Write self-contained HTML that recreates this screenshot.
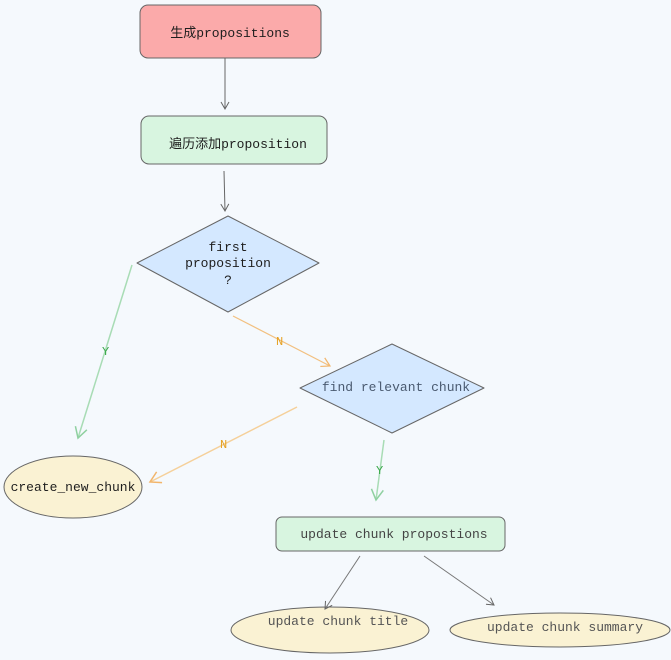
<!DOCTYPE html>
<html><head><meta charset="utf-8"><style>
html,body{margin:0;padding:0;background:#f5f9fd;}
svg{display:block}
text{font-family:"Liberation Mono","Noto Sans CJK SC",monospace;font-size:13px;}
</style></head><body>
<svg width="671" height="660" viewBox="0 0 671 660">
<defs>
<marker id="ag" markerWidth="10" markerHeight="10" refX="8" refY="5" orient="auto"><path d="M1,1 L8,5 L1,9" fill="none" stroke="#666" stroke-width="1"/></marker>
<marker id="ao" markerWidth="10" markerHeight="10" refX="8" refY="5" orient="auto"><path d="M1,1 L8,5 L1,9" fill="none" stroke="#f2b56b" stroke-width="1"/></marker>
<marker id="agr" markerWidth="10" markerHeight="10" refX="8" refY="5" orient="auto"><path d="M1,1 L8,5 L1,9" fill="none" stroke="#8fd0a0" stroke-width="1"/></marker>
</defs>
<rect width="671" height="660" fill="#f5f9fd"/>
<rect x="140" y="5" width="181" height="53" rx="8" fill="#fbaaaa" stroke="#666"/>
<text x="230" y="37" text-anchor="middle" style="fill:#1e1e1e">生成propositions</text>
<rect x="141" y="116" width="186" height="48" rx="8" fill="#d8f5e0" stroke="#666"/>
<text x="238" y="148" text-anchor="middle" style="fill:#1e1e1e">遍历添加proposition</text>
<path d="M228,216 L319,263 L228,312 L137,263 Z" fill="#d4e8ff" stroke="#666" stroke-linejoin="round"/>
<text x="228" y="251" text-anchor="middle" style="fill:#1e1e1e">first</text>
<text x="228" y="267" text-anchor="middle" style="fill:#1e1e1e">proposition</text>
<text x="228" y="284" text-anchor="middle" style="fill:#1e1e1e">?</text>
<path d="M392,344 L484,388 L392,433 L300,388 Z" fill="#d4e8ff" stroke="#666" stroke-linejoin="round"/>
<text x="396" y="391" text-anchor="middle" style="fill:#4a5a70">find relevant chunk</text>
<ellipse cx="73" cy="487" rx="69" ry="31" fill="#faf2d3" stroke="#666"/>
<text x="73" y="491" text-anchor="middle" style="fill:#1e1e1e">create_new_chunk</text>
<rect x="276" y="517" width="229" height="34" rx="6" fill="#d8f5e0" stroke="#666"/>
<text x="394" y="538" text-anchor="middle" style="fill:#444">update chunk propostions</text>
<ellipse cx="330" cy="630" rx="99" ry="23" fill="#faf2d3" stroke="#666"/>
<text x="338" y="625" text-anchor="middle" style="fill:#555">update chunk title</text>
<ellipse cx="560" cy="630" rx="110" ry="17" fill="#faf2d3" stroke="#666"/>
<text x="565" y="631" text-anchor="middle" style="fill:#555">update chunk summary</text>
<line x1="225" y1="58" x2="225" y2="109" stroke="#666" marker-end="url(#ag)"/>
<line x1="224" y1="171" x2="225" y2="211" stroke="#666" marker-end="url(#ag)"/>
<line x1="132" y1="265" x2="78" y2="438" stroke="#a8dcb5" stroke-width="1.5" marker-end="url(#agr)"/>
<text x="102" y="355" style="fill:#3aa84a;font-size:12px">Y</text>
<line x1="233" y1="316" x2="330" y2="366" stroke="#f2c080" stroke-width="1.2" marker-end="url(#ao)"/>
<text x="276" y="345" style="fill:#e5a020;font-size:12px">N</text>
<line x1="297" y1="407" x2="150" y2="482" stroke="#f5d09a" stroke-width="1.5" marker-end="url(#ao)"/>
<text x="220" y="448" style="fill:#e5a020;font-size:12px">N</text>
<line x1="384" y1="440" x2="376" y2="500" stroke="#a8dcb5" stroke-width="1.5" marker-end="url(#agr)"/>
<text x="376" y="474" style="fill:#3aa84a;font-size:12px">Y</text>
<line x1="360" y1="556" x2="325" y2="609" stroke="#777" marker-end="url(#ag)"/>
<line x1="424" y1="556" x2="494" y2="605" stroke="#777" marker-end="url(#ag)"/>
</svg>
</body></html>
